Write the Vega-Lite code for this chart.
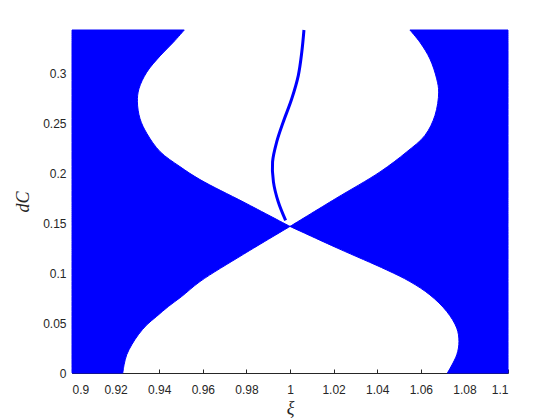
{
  "$schema": "https://vega.github.io/schema/vega-lite/v6.json",
  "width": 436,
  "height": 343,
  "autosize": {"type": "none"},
  "padding": {"left": 72, "top": 30, "right": 52, "bottom": 47},
  "background": "white",
  "config": {
    "view": {"stroke": null},
    "axis": {
      "labelFont": "Liberation Sans",
      "labelFontSize": 12,
      "labelColor": "#262626",
      "domainColor": "#262626",
      "tickColor": "#262626",
      "grid": false,
      "titleFont": "Liberation Serif",
      "titleFontStyle": "italic",
      "titleFontWeight": "normal",
      "titleFontSize": 18,
      "titleColor": "#262626"
    }
  },
  "datasets": {
    "regions": [
      {"region": "L1", "d": 0.0, "xa": 0.9, "xb": 0.9233},
      {"region": "L1", "d": 0.0083, "xa": 0.9, "xb": 0.9239},
      {"region": "L1", "d": 0.0183, "xa": 0.9, "xb": 0.9251},
      {"region": "L1", "d": 0.0283, "xa": 0.9, "xb": 0.9274},
      {"region": "L1", "d": 0.0383, "xa": 0.9, "xb": 0.9304},
      {"region": "L1", "d": 0.0483, "xa": 0.9, "xb": 0.9343},
      {"region": "L1", "d": 0.0567, "xa": 0.9, "xb": 0.9388},
      {"region": "L1", "d": 0.0667, "xa": 0.9, "xb": 0.9442},
      {"region": "L1", "d": 0.0767, "xa": 0.9, "xb": 0.9503},
      {"region": "L1", "d": 0.0917, "xa": 0.9, "xb": 0.9587},
      {"region": "L1", "d": 0.119, "xa": 0.9, "xb": 0.9786},
      {"region": "L1", "d": 0.147, "xa": 0.9, "xb": 1.0},
      {"region": "L2", "d": 0.147, "xa": 0.9, "xb": 1.0},
      {"region": "L2", "d": 0.1712, "xa": 0.9, "xb": 0.9789},
      {"region": "L2", "d": 0.194, "xa": 0.9, "xb": 0.9587},
      {"region": "L2", "d": 0.207, "xa": 0.9, "xb": 0.9495},
      {"region": "L2", "d": 0.222, "xa": 0.9, "xb": 0.9404},
      {"region": "L2", "d": 0.24, "xa": 0.9, "xb": 0.9344},
      {"region": "L2", "d": 0.255, "xa": 0.9, "xb": 0.9312},
      {"region": "L2", "d": 0.272, "xa": 0.9, "xb": 0.93},
      {"region": "L2", "d": 0.285, "xa": 0.9, "xb": 0.9307},
      {"region": "L2", "d": 0.3017, "xa": 0.9, "xb": 0.9343},
      {"region": "L2", "d": 0.318, "xa": 0.9, "xb": 0.9404},
      {"region": "L2", "d": 0.3317, "xa": 0.9, "xb": 0.9465},
      {"region": "L2", "d": 0.344, "xa": 0.9, "xb": 0.9515},
      {"region": "R1", "d": 0.0, "xa": 1.0722, "xb": 1.1},
      {"region": "R1", "d": 0.0183, "xa": 1.0765, "xb": 1.1},
      {"region": "R1", "d": 0.0317, "xa": 1.0775, "xb": 1.1},
      {"region": "R1", "d": 0.045, "xa": 1.0765, "xb": 1.1},
      {"region": "R1", "d": 0.0617, "xa": 1.0719, "xb": 1.1},
      {"region": "R1", "d": 0.0783, "xa": 1.0642, "xb": 1.1},
      {"region": "R1", "d": 0.0917, "xa": 1.055, "xb": 1.1},
      {"region": "R1", "d": 0.1033, "xa": 1.0444, "xb": 1.1},
      {"region": "R1", "d": 0.125, "xa": 1.022, "xb": 1.1},
      {"region": "R1", "d": 0.147, "xa": 1.0, "xb": 1.1},
      {"region": "R2", "d": 0.147, "xa": 1.0, "xb": 1.1},
      {"region": "R2", "d": 0.175, "xa": 1.021, "xb": 1.1},
      {"region": "R2", "d": 0.2017, "xa": 1.0413, "xb": 1.1},
      {"region": "R2", "d": 0.2217, "xa": 1.0535, "xb": 1.1},
      {"region": "R2", "d": 0.2383, "xa": 1.0619, "xb": 1.1},
      {"region": "R2", "d": 0.2583, "xa": 1.0665, "xb": 1.1},
      {"region": "R2", "d": 0.2817, "xa": 1.0682, "xb": 1.1},
      {"region": "R2", "d": 0.295, "xa": 1.0673, "xb": 1.1},
      {"region": "R2", "d": 0.315, "xa": 1.0642, "xb": 1.1},
      {"region": "R2", "d": 0.3317, "xa": 1.0596, "xb": 1.1},
      {"region": "R2", "d": 0.344, "xa": 1.055, "xb": 1.1}
    ],
    "curve": [
      {"d": 0.153, "x": 0.998},
      {"d": 0.1717, "x": 0.9946},
      {"d": 0.1917, "x": 0.9924},
      {"d": 0.2117, "x": 0.992},
      {"d": 0.2317, "x": 0.9939},
      {"d": 0.2517, "x": 0.9969},
      {"d": 0.275, "x": 1.0008},
      {"d": 0.2983, "x": 1.0038},
      {"d": 0.3217, "x": 1.0054},
      {"d": 0.344, "x": 1.0064}
    ]
  },
  "layer": [
    {
      "data": {"name": "regions"},
      "mark": {"type": "area", "orient": "horizontal", "color": "#0000ff", "opacity": 1, "interpolate": "catmull-rom", "stroke": "#0000ff", "strokeWidth": 1},
      "encoding": {
        "y": {
          "field": "d", "type": "quantitative",
          "scale": {"domain": [0, 0.344], "nice": false, "zero": false},
          "axis": {
            "values": [0, 0.05, 0.1, 0.15, 0.2, 0.25, 0.3],
            "format": "~g",
            "title": "dC",
            "ticks": false,
            "labelPadding": 6,
            "titlePadding": 10
          }
        },
        "x": {
          "field": "xa", "type": "quantitative",
          "scale": {"domain": [0.9, 1.1], "nice": false, "zero": false},
          "axis": {
            "values": [0.9, 0.92, 0.94, 0.96, 0.98, 1, 1.02, 1.04, 1.06, 1.08, 1.1],
            "format": "~g",
            "title": "ξ",
            "tickSize": -4,
            "labelPadding": 15,
            "titlePadding": 4
          }
        },
        "x2": {"field": "xb"},
        "detail": {"field": "region"}
      }
    },
    {
      "data": {"name": "curve"},
      "mark": {"type": "line", "color": "#0000ff", "strokeWidth": 3, "interpolate": "catmull-rom"},
      "encoding": {
        "x": {"field": "x", "type": "quantitative"},
        "y": {"field": "d", "type": "quantitative"},
        "order": {"field": "d"}
      }
    }
  ]
}
